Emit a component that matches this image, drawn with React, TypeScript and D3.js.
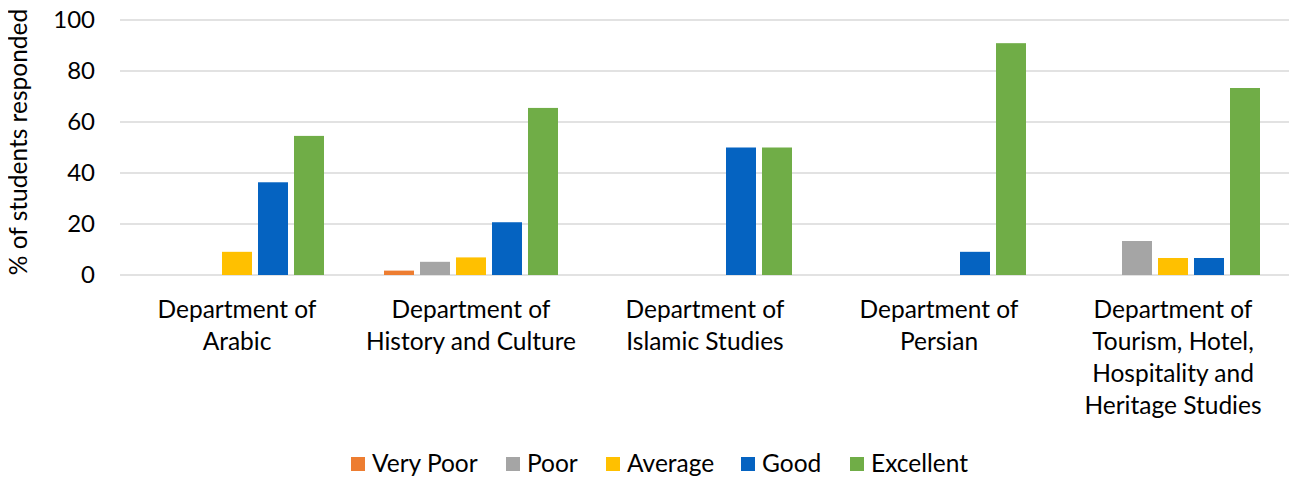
import React, { useEffect, useRef } from 'react';
import * as d3 from 'd3';

const categories = [
  ['Department of', 'Arabic'],
  ['Department of', 'History and Culture'],
  ['Department of', 'Islamic Studies'],
  ['Department of', 'Persian'],
  ['Department of', 'Tourism, Hotel,', 'Hospitality and', 'Heritage Studies'],
];
const seriesNames = ['Very Poor', 'Poor', 'Average', 'Good', 'Excellent'];
const seriesColors = ['#ED7D31', '#A5A5A5', '#FFC000', '#0563C1', '#70AD47'];

const veryPoor = [0, 1.72, 0, 0, 0];
const poor = [0, 5.17, 0, 0, 13.33];
const average = [9.09, 6.9, 0, 0, 6.67];
const good = [36.36, 20.69, 50, 9.09, 6.67];
const excellent = [54.55, 65.52, 50, 90.91, 73.33];
const yTicks = [0, 20, 40, 60, 80, 100];

const font = 'Lato, "Open Sans", sans-serif';

const App = () => {
  const svgRef = useRef<SVGSVGElement>(null);
  const svgWidth = 1297;
  const svgHeight = 479;
  const margin = { top: 20, right: 7, bottom: 204, left: 120 };
  const width = svgWidth - margin.left - margin.right;
  const height = svgHeight - margin.top - margin.bottom;

  useEffect(() => {
    const svg = d3.select(svgRef.current);
    svg.selectAll('*').remove();

    const values = [veryPoor, poor, average, good, excellent];
    const keys = categories.map((_, i) => String(i));

    const x = d3.scaleBand().domain(keys).range([0, width]).padding(0);
    const y = d3.scaleLinear().domain([0, 100]).range([height, 0]);
    const xSub = d3.scaleBand()
      .domain(seriesNames)
      .range([x.bandwidth() / 2 - 87, x.bandwidth() / 2 + 87])
      .paddingInner(1 / 6);
    const color = d3.scaleOrdinal<string>().domain(seriesNames).range(seriesColors);

    const g = svg.append('g').attr('transform', `translate(${margin.left},${margin.top})`);

    // grid
    g.selectAll('line.grid')
      .data(yTicks)
      .enter().append('line')
      .attr('x1', 0).attr('x2', width)
      .attr('y1', d => y(d)).attr('y2', d => y(d))
      .attr('stroke', '#D9D9D9')
      .attr('stroke-width', 1.5);

    // y tick labels
    g.selectAll('text.ytick')
      .data(yTicks)
      .enter().append('text')
      .attr('x', -25)
      .attr('y', d => y(d))
      .attr('dy', '0.35em')
      .attr('text-anchor', 'end')
      .style('font-family', font)
      .style('font-size', '24px')
      .attr('fill', '#000')
      .text(d => d);

    // y axis title
    svg.append('text')
      .attr('transform', `translate(27,142) rotate(-90)`)
      .attr('text-anchor', 'middle')
      .style('font-family', font)
      .style('font-size', '24.5px')
      .attr('fill', '#000')
      .text('% of students responded');

    // bars
    const groups = g.selectAll('g.grp')
      .data(keys)
      .enter().append('g')
      .attr('transform', d => `translate(${x(d)},0)`);

    groups.selectAll('rect')
      .data((_, i) => seriesNames.map((s, j) => ({ s, v: values[j][i] })))
      .enter().append('rect')
      .attr('x', d => xSub(d.s))
      .attr('width', xSub.bandwidth())
      .attr('y', d => y(d.v))
      .attr('height', d => height - y(d.v))
      .attr('fill', d => color(d.s));

    // category labels
    groups.append('text')
      .attr('text-anchor', 'middle')
      .attr('x', x.bandwidth() / 2)
      .attr('y', height + 43)
      .style('font-family', font)
      .style('font-size', '24.5px')
      .attr('fill', '#000')
      .selectAll('tspan')
      .data((_, i) => categories[i])
      .enter().append('tspan')
      .attr('x', x.bandwidth() / 2)
      .attr('dy', (_, j) => (j === 0 ? 0 : 32))
      .text(d => d);

    // legend
    const legendX = [351, 506, 606, 741, 850];
    const legend = svg.append('g');
    seriesNames.forEach((s, i) => {
      legend.append('rect')
        .attr('x', legendX[i]).attr('y', 457)
        .attr('width', 14).attr('height', 14)
        .attr('fill', color(s));
      legend.append('text')
        .attr('x', legendX[i] + 21).attr('y', 472)
        .style('font-family', font)
        .style('font-size', '24.5px')
        .attr('fill', '#000')
        .text(s);
    });
  }, [height, margin.left, margin.top, width]);

  return (
    <svg ref={svgRef} width={svgWidth} height={svgHeight} style={{ display: 'block', margin: '-8px 0 0 -8px' }}></svg>
  );
};

export default App;
